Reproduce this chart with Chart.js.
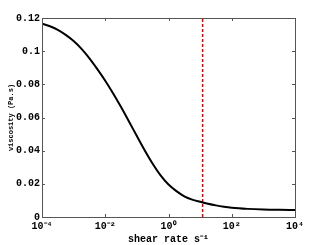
<!DOCTYPE html>
<html><head><meta charset="utf-8">
<script src="https://cdn.jsdelivr.net/npm/chart.js@4/dist/chart.umd.min.js"></script>
<style>html,body{margin:0;padding:0;background:#fff}#w{width:326px;height:245px}</style>
</head><body><div id="w"><canvas id="c"></canvas></div>
<script>
const shearRate = [1e-4,1.78e-4,3.16e-4,5.62e-4,1e-3,1.78e-3,3.16e-3,5.62e-3,1e-2,1.78e-2,3.16e-2,5.62e-2,1e-1,1.78e-1,3.16e-1,5.62e-1,1,1.78,3.16,5.62,10,17.8,31.6,56.2,100,316,1000,3162,10000];
const viscosity = [0.1166,0.1150,0.1128,0.1098,0.1061,0.1014,0.0957,0.0892,0.0822,0.0745,0.0663,0.0576,0.0488,0.0401,0.0321,0.0251,0.0196,0.0156,0.0125,0.0105,0.0092,0.0080,0.0070,0.0062,0.0056,0.0049,0.0045,0.0043,0.0042];
const markerRate = [12,12];
const markerVisc = [0,0.12];
const xTickValues = [1e-4,1e-2,1,1e2,1e4];
const xTickLabels = ['10\u207B\u2074','10\u207B\u00B2','10\u2070','10\u00B2','10\u2074'];
const yTickValues = [0,0.02,0.04,0.06,0.08,0.1,0.12];
const yTickLabels = ['0','0.02','0.04','0.06','0.08','0.1','0.12'];

const FONT = 'Liberation Mono';
const boxPlugin = {
  id:'box',
  afterDraw(chart){
    const ctx = chart.ctx, a = chart.chartArea, xs = chart.scales.x, ys = chart.scales.y;
    ctx.save();
    ctx.strokeStyle = '#555';
    ctx.lineWidth = 1;
    ctx.strokeRect(Math.round(a.left)+0.5, Math.round(a.top)+0.5, Math.round(a.right-a.left), Math.round(a.bottom-a.top));
    ctx.beginPath();
    xTickValues.forEach(v=>{
      const px = Math.round(xs.getPixelForValue(v))+0.5;
      ctx.moveTo(px,a.bottom); ctx.lineTo(px,a.bottom-3);
      ctx.moveTo(px,a.top); ctx.lineTo(px,a.top+3);
    });
    yTickValues.forEach(v=>{
      const py = Math.round(ys.getPixelForValue(v))+0.5;
      ctx.moveTo(a.left,py); ctx.lineTo(a.left+3,py);
      ctx.moveTo(a.right,py); ctx.lineTo(a.right-3,py);
    });
    ctx.stroke();
    ctx.restore();
  }
};

new Chart(document.getElementById('c'),{
  type:'line',
  data:{datasets:[
    {data:shearRate.map((x,i)=>({x:x,y:viscosity[i]})),borderColor:'#000',borderWidth:2,pointRadius:0,cubicInterpolationMode:'monotone'},
    {data:markerRate.map((x,i)=>({x:x,y:markerVisc[i]})),borderColor:'#e00000',borderWidth:1.5,borderDash:[3,2],pointRadius:0}
  ]},
  options:{
    responsive:true,maintainAspectRatio:false,animation:false,
    layout:{padding:{top:18,right:31,left:0,bottom:0}},
    plugins:{legend:{display:false},tooltip:{enabled:false}},
    scales:{
      x:{type:'logarithmic',min:1e-4,max:1e4,
        afterBuildTicks(s){s.ticks=xTickValues.map(v=>({value:v}));},
        afterFit(s){s.height=28;},
        grid:{display:false,drawTicks:false,tickLength:0},border:{display:false},
        ticks:{autoSkip:false,maxRotation:0,padding:3,color:'#000',font:{family:FONT,size:10,weight:'bold'},
          callback:(v)=>{const i=xTickValues.indexOf(v);return i>=0?xTickLabels[i]:'';}},
        title:{display:true,text:'shear rate s\u207B\u00B9',color:'#000',padding:{top:0,bottom:0},font:{family:FONT,size:10,weight:'bold'}}
      },
      y:{min:0,max:0.12,
        afterBuildTicks(s){s.ticks=yTickValues.map(v=>({value:v}));},
        afterFit(s){s.width=42;},
        grid:{display:false,drawTicks:false,tickLength:0},border:{display:false},
        ticks:{autoSkip:false,padding:2,color:'#000',font:{family:FONT,size:10,weight:'bold'},
          callback:(v)=>{const i=yTickValues.findIndex(t=>Math.abs(t-v)<1e-9);return i>=0?yTickLabels[i]:'';}},
        title:{display:true,text:'viscosity (Pa.s)',color:'#000',padding:{top:7,bottom:0},font:{family:FONT,size:7,weight:'bold'}}
      }
    }
  },
  plugins:[boxPlugin]
});
</script></body></html>
